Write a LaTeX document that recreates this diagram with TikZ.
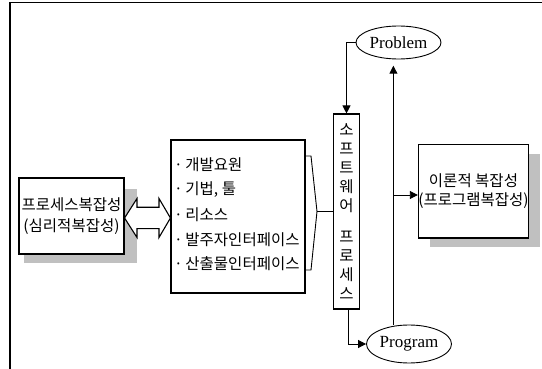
\documentclass[tikz,border=0pt]{standalone}
\usepackage{fontspec}
\setmainfont{Liberation Serif}
\newfontfamily\kr{Noto Sans CJK KR}
\usetikzlibrary{arrows.meta,shapes.geometric,calc}
\definecolor{shadowgray}{RGB}{192,192,192}
\tikzset{
  box/.style={draw=black,line width=1.1pt,fill=white,inner sep=0pt},
  oval/.style={draw=black,line width=0.9pt,ellipse,fill=white,inner sep=0pt,font=\fontsize{17}{19}\selectfont},
  arr/.style={line width=0.9pt,-{Triangle[length=8pt,width=8pt]}},
  conn/.style={line width=0.9pt},
  krtext/.style={font=\kr\fontsize{15.5}{19}\selectfont},
  item/.style={krtext,anchor=west,inner sep=0pt},
}
\begin{document}
\begin{tikzpicture}[x=1pt,y=-1pt]
\useasboundingbox (0,0) rectangle (542,369);
% frame
\draw[line width=1.3pt] (10,369) -- (10,2.5) -- (542,2.5);
% shadows
\fill[shadowgray] (23.5,189.5) rectangle (136.5,263);
\fill[shadowgray] (430,154) rectangle (540,247);
% left box
\node[box,minimum width=105pt,minimum height=76pt,align=center,
  font=\kr\fontsize{15.5}{20.7}\selectfont] (left) at (71.5,216) {프로세스복잡성\\(심리적복잡성)};
% middle box
\node[box,minimum width=134pt,minimum height=153pt] (mid) at (238,216.5) {};
\node[item] (i1) at (174,165) {·\,개발요원};
\node[item] (i2) at (174,190) {·\,기법, 툴};
\node[item] (i3) at (174,215) {·\,리소스};
\node[item] (i4) at (174,240) {·\,발주자인터페이스};
\node[item] (i5) at (174,264) {·\,산출물인터페이스};
% software process box
\node[box,minimum width=26pt,minimum height=195pt,align=center,
  font=\kr\fontsize{15.5}{19}\selectfont] (sw) at (346.5,211.5)
  {소\\프\\트\\웨\\어\\[12.5pt]프\\로\\세\\스};
% right box
\node[box,minimum width=109pt,minimum height=93.5pt,krtext,align=center] (right) at (473.5,191.25)
  {이론적 복잡성\\(프로그램복잡성)};
% ellipses
\node[oval,minimum width=85pt,minimum height=33pt] (problem) at (398.5,42.5) {Problem};
\node[oval,minimum width=85pt,minimum height=38pt] (program) at (409,344) {Program};
% double arrow
\draw[line width=1.1pt,fill=white] (left.east |- 0,218) -- (137,198.5) -- (137,207.3) -- (159,207.3) -- (159,198.5)
  -- (mid.west |- 0,218) -- (159,237.5) -- (159,228.7) -- (137,228.7) -- (137,237.5) -- cycle;
% bracket
\coordinate (bt) at (305,156);
\coordinate (bb) at (305,270);
\coordinate (bp) at (317,211.5);
\draw[conn] (bt) -- (311,156) -- (bp) -- (311,270) -- (bb);
\draw[conn] (bp) -- (sw.west |- bp);
% connectors
\draw[arr] (problem.west) -| (sw.north);
\draw[arr] ($(sw.south)+(2,0)$) |- (program.west);
\coordinate (ptip) at (393.4,65.7);
\draw[arr] (program.north -| ptip) -- (ptip);
\coordinate (br) at (393.4,195);
\draw[arr] (br) -- (br -| right.west);
\end{tikzpicture}
\end{document}
